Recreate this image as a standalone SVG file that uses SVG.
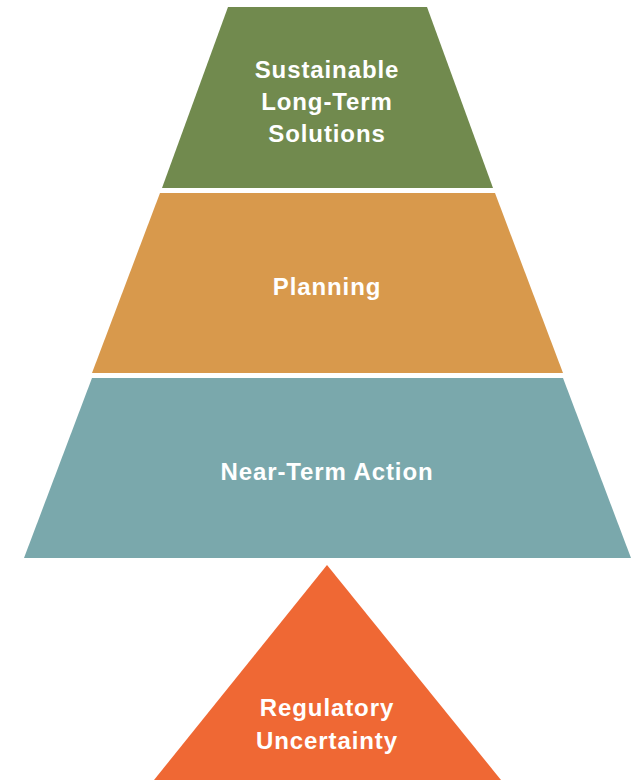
<svg xmlns="http://www.w3.org/2000/svg" width="638" height="780" viewBox="0 0 638 780">
<style>
.lbl{font-family:"Liberation Sans","Noto Sans",Arial,sans-serif;font-size:24px;font-weight:bold;letter-spacing:0.9px;fill:#ffffff;text-anchor:middle}
</style>
<rect width="638" height="780" fill="#ffffff"/>
<g id="sustainable">
<polygon points="228,7 427,7 493,188 162,188" fill="#718A4E"/>
<text class="lbl" x="327" y="78">Sustainable</text>
<text class="lbl" x="327" y="110">Long-Term</text>
<text class="lbl" x="327" y="142">Solutions</text>
</g>
<g id="planning">
<polygon points="160,193 495,193 563,373 92,373" fill="#D8994C"/>
<text class="lbl" x="327" y="295">Planning</text>
</g>
<g id="near-term">
<polygon points="92,378 563,378 631,558 24,558" fill="#7AA8AC"/>
<text class="lbl" x="327" y="480">Near-Term Action</text>
</g>
<g id="regulatory">
<polygon points="327,565 501,780 154,780" fill="#EF6834"/>
<text class="lbl" x="327" y="716">Regulatory</text>
<text class="lbl" x="327" y="749">Uncertainty</text>
</g>
<g id="connectors"></g>
</svg>
